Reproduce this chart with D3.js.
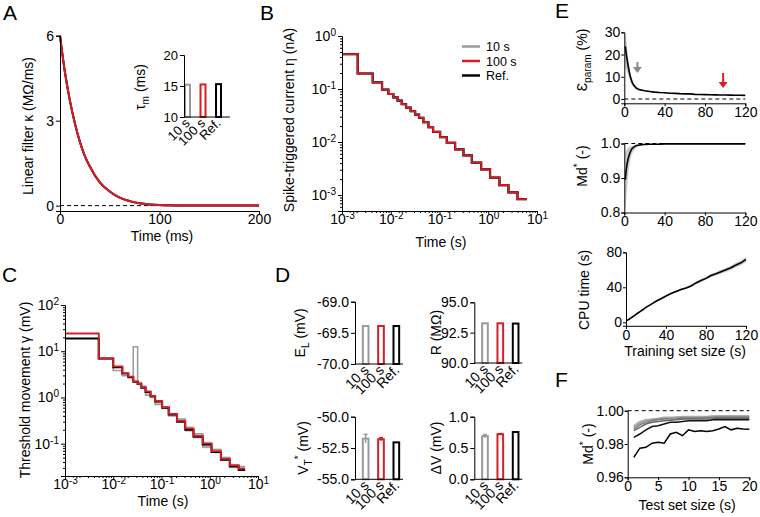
<!DOCTYPE html>
<html><head><meta charset="utf-8">
<script src="https://cdn.jsdelivr.net/npm/d3@7"></script>
<style>
body{margin:0;background:#fff;}
svg{display:block;}
</style></head><body>
<svg id="c" width="760" height="517"></svg>
<script>
// ================= DATA =================
const seriesNames = ["10 s", "100 s", "Ref."];

// A: linear filter kappa (MOhm/ms) vs time (ms)
const kappaTime = [0, 5, 10, 15, 20, 25, 30, 40, 50, 60, 70, 80, 90, 100, 120, 150, 200];
const kappaValues = [6.0, 4.7, 3.7, 2.9, 2.25, 1.75, 1.38, 0.82, 0.5, 0.28, 0.16, 0.08, 0.04, 0.02, 0.005, 0, 0];
// A inset: tau_m (ms)
const tauM = [15.2, 15.25, 15.3];

// B: spike-triggered current eta (nA), step boundaries (s) and levels
const etaBounds = [0.001, 0.0021, 0.00427, 0.00663, 0.00893, 0.0113, 0.0138, 0.0168, 0.0206, 0.0255, 0.0316, 0.0381, 0.0467, 0.0592, 0.0739, 0.103, 0.141, 0.209, 0.310, 0.460, 0.715, 1.09, 1.70, 2.60, 3.98, 6.2];
const etaLevels = [0.454, 0.196, 0.133, 0.097, 0.0805, 0.0695, 0.0602, 0.0518, 0.0446, 0.0383, 0.0329, 0.0286, 0.0236, 0.0190, 0.0156, 0.0124, 0.0097, 0.00727, 0.00561, 0.00409, 0.00306, 0.00214, 0.00153, 0.00112, 0.00084];

// C: threshold movement gamma (mV)
const gammaBounds = [0.001, 0.005, 0.01, 0.0154, 0.0205, 0.026, 0.032, 0.0381, 0.0467, 0.0592, 0.0739, 0.103, 0.141, 0.209, 0.310, 0.460, 0.715, 1.09, 1.70, 2.60, 3.98, 5.4];
const gamma100 = [24.4, 7.0, 4.7, 3.37, 2.81, 2.22, 1.98, 1.67, 1.35, 1.08, 0.84, 0.62, 0.44, 0.31, 0.215, 0.148, 0.102, 0.069, 0.047, 0.034, 0.029];
const gammaRef = [18.8, 7.0, 4.5, 3.3, 2.75, 2.2, 1.95, 1.62, 1.32, 1.06, 0.82, 0.60, 0.43, 0.30, 0.20, 0.142, 0.096, 0.066, 0.045, 0.032, 0.027];
const gamma10 = [24.0, 6.9, 3.85, 2.96, 2.75, 12.5, 2.1, 1.75, 1.12, 1.02, 0.70, 0.60, 0.40, 0.34, 0.20, 0.165, 0.085, 0.075, 0.050, 0.035, 0.032];
const gamma10Lo = [24.0, 6.9, 3.85, 2.96, 2.75, 2.3, 1.9, 1.6, 1.1, 0.95, 0.70, 0.55, 0.38, 0.29, 0.18, 0.13, 0.080, 0.062, 0.042, 0.029, 0.026];
const gamma10Hi = [24.0, 6.9, 3.85, 2.96, 2.75, 2.3, 2.2, 1.8, 1.3, 1.10, 0.85, 0.65, 0.46, 0.35, 0.24, 0.17, 0.110, 0.078, 0.052, 0.037, 0.033];

// D: model parameters
const EL = [-69.39, -69.39, -69.39];
const Rin = [93.27, 93.27, 93.25];
const VT = [-51.75, -51.8, -52.05];
const VTerr = [0.34, 0.12, 0];
const DV = [0.69, 0.72, 0.755];
const DVerr = [0.025, 0.01, 0];

// E: vs training set size (s)
const trainSize = [1, 2, 3, 4, 5, 6, 7, 8, 10, 12, 14, 16, 18, 20, 25, 30, 35, 40, 45, 50, 55, 60, 65, 70, 75, 80, 85, 90, 95, 100, 105, 110, 115, 120];
const epsParam = [23.7, 20, 17, 14.5, 12, 10, 8.5, 7.2, 5.8, 4.9, 4.4, 4.1, 3.9, 3.7, 3.4, 3.1, 2.9, 2.8, 2.6, 2.55, 2.4, 2.3, 2.3, 2.1, 2.0, 1.95, 1.9, 1.85, 1.8, 1.8, 1.75, 1.7, 1.7, 1.65];
const epsHi = [31, 27, 22, 18, 15, 12.5, 10.5, 8.8, 6.8, 5.6, 4.9, 4.5, 4.2, 4.0, 3.7, 3.35, 3.1, 3.0, 2.8, 2.7, 2.55, 2.45, 2.45, 2.25, 2.15, 2.1, 2.05, 2.0, 1.95, 1.95, 1.9, 1.85, 1.85, 1.8];
const epsLo = [14, 13, 12, 10.5, 9, 7.8, 6.8, 5.8, 4.8, 4.2, 3.9, 3.7, 3.6, 3.4, 3.1, 2.85, 2.7, 2.6, 2.4, 2.4, 2.25, 2.15, 2.15, 1.95, 1.85, 1.8, 1.75, 1.7, 1.65, 1.65, 1.6, 1.55, 1.55, 1.5];
const arrowSizes = [13, 98];
const mdTrain = [0.895, 0.925, 0.945, 0.958, 0.968, 0.976, 0.982, 0.986, 0.991, 0.994, 0.995, 0.996, 0.997, 0.997, 0.998, 0.998, 0.998, 0.999, 0.999, 0.999, 0.999, 0.999, 0.999, 0.999, 0.999, 0.999, 0.999, 0.999, 0.999, 0.999, 0.999, 0.999, 0.999, 0.999];
const mdTrainLo = [0.80, 0.84, 0.88, 0.91, 0.935, 0.952, 0.964, 0.972, 0.982, 0.988, 0.991, 0.993, 0.994, 0.995, 0.996, 0.997, 0.997, 0.998, 0.998, 0.998, 0.998, 0.998, 0.998, 0.998, 0.998, 0.998, 0.998, 0.998, 0.998, 0.998, 0.998, 0.998, 0.998, 0.998];
const mdTrainHi = [0.975, 0.98, 0.985, 0.988, 0.99, 0.992, 0.993, 0.994, 0.996, 0.997, 0.998, 0.998, 0.999, 0.999, 0.999, 0.999, 0.999, 1.0, 1.0, 1.0, 1.0, 1.0, 1.0, 1.0, 1.0, 1.0, 1.0, 1.0, 1.0, 1.0, 1.0, 1.0, 1.0, 1.0];
const cpuTime = [2, 2.8, 3.5, 4.3, 5, 5.8, 6.6, 7.4, 9, 10.6, 12.2, 13.8, 15.4, 17, 20.5, 24, 27, 30, 32.8, 35.3, 37.5, 39.2, 41.5, 45, 47.8, 50.2, 53.5, 55.5, 57.8, 60, 62.3, 65.5, 68, 72];
const cpuLo = [1.5, 2.3, 3.0, 3.8, 4.5, 5.3, 6.1, 6.9, 8.5, 10.1, 11.7, 13.2, 14.8, 16.4, 19.8, 23.2, 26.2, 29.1, 31.8, 34.2, 36.3, 38.0, 40.2, 43.5, 46.2, 48.5, 51.5, 53.4, 55.5, 57.6, 59.8, 62.8, 65.2, 69];
const cpuHi = [2.5, 3.3, 4.0, 4.8, 5.5, 6.3, 7.1, 7.9, 9.5, 11.1, 12.7, 14.4, 16.0, 17.6, 21.2, 24.8, 27.8, 30.9, 33.8, 36.4, 38.7, 40.4, 42.8, 46.5, 49.4, 51.9, 55.5, 57.6, 60.1, 62.4, 64.8, 68.2, 70.8, 75];

// F: Md* vs test set size (s)
const testSize = [1, 2, 3, 4, 5, 6, 7, 8, 9, 10, 11, 12, 13, 14, 15, 16, 17, 18, 19, 20];
const mdTestLines = [
  [0.991, 0.9935, 0.9945, 0.995, 0.9955, 0.996, 0.996, 0.996, 0.9965, 0.9965, 0.9965, 0.9965, 0.9965, 0.997, 0.997, 0.997, 0.997, 0.997, 0.997, 0.997],
  [0.990, 0.9925, 0.994, 0.9945, 0.995, 0.9955, 0.9955, 0.996, 0.996, 0.996, 0.996, 0.996, 0.9962, 0.9962, 0.9965, 0.9965, 0.9965, 0.9965, 0.9965, 0.9965],
  [0.989, 0.9915, 0.993, 0.994, 0.9945, 0.995, 0.995, 0.9952, 0.9955, 0.9955, 0.9955, 0.9955, 0.9958, 0.996, 0.996, 0.996, 0.996, 0.996, 0.996, 0.996],
  [0.988, 0.990, 0.992, 0.993, 0.9935, 0.994, 0.9942, 0.9945, 0.995, 0.995, 0.995, 0.995, 0.995, 0.9952, 0.9955, 0.9955, 0.9955, 0.9955, 0.9955, 0.9955],
  [0.984, 0.986, 0.9885, 0.9905, 0.991, 0.992, 0.993, 0.993, 0.9935, 0.994, 0.994, 0.994, 0.994, 0.9945, 0.9945, 0.9945, 0.9945, 0.9945, 0.9945, 0.9945],
  [0.972, 0.9775, 0.978, 0.9805, 0.981, 0.9805, 0.986, 0.987, 0.985, 0.9885, 0.9875, 0.988, 0.9875, 0.988, 0.989, 0.9905, 0.9885, 0.9895, 0.989, 0.9888]
];
const mdTestColors = ["#b0b0b0", "#999999", "#808080", "#666666", "#111111", "#000000"];

// ================= DRAWING =================
const FONT = "'Liberation Sans', Arial, Helvetica, sans-serif";
const RED = "#d81e24", GRAY = "#9a9a9a", BLACK = "#000000";
const seriesColors = [GRAY, RED, BLACK];
const svg = d3.select("#c").attr("font-family", FONT);

function makeAxis(kind, scale, pos, ticks, fmt, fs, opts = {}) {
  const ax = (kind === "left" ? d3.axisLeft(scale) : d3.axisBottom(scale))
    .tickValues(ticks).tickSizeOuter(0)
    .tickSize(opts.size ?? 4).tickPadding(opts.pad ?? 2);
  if (fmt !== undefined) ax.tickFormat(fmt);
  const g = svg.append("g")
    .attr("transform", kind === "left" ? `translate(${pos},0)` : `translate(0,${pos})`)
    .call(ax);
  g.attr("font-family", FONT).attr("font-size", fs);
  g.selectAll("path.domain").attr("stroke", "#000").attr("stroke-width", 1);
  g.selectAll(".tick line").attr("stroke", "#000").attr("stroke-width", 1);
  g.selectAll(".tick text").attr("fill", "#000");
  if (opts.noDomain) g.select("path.domain").remove();
  return g;
}
function supLabels(g) {
  g.selectAll(".tick text").each(function (d) {
    const t = d3.select(this);
    const e = Math.round(Math.log10(d));
    t.text("10");
    t.append("tspan").attr("dy", "-0.5em").attr("font-size", "0.72em").text(e);
  });
}
function minorTicks(lo, hi) {
  const out = [];
  for (let e = Math.floor(Math.log10(lo)); e < Math.ceil(Math.log10(hi)); e++)
    for (let m = 2; m <= 9; m++) { const v = m * Math.pow(10, e); if (v >= lo && v <= hi) out.push(v); }
  return out;
}
function rich(sel, parts, fs) {
  let shift = 0;
  parts.forEach(p => {
    const [txt, kind] = Array.isArray(p) ? p : [p, null];
    const target = kind === "sub" ? fs * 0.3 : kind === "sup" ? -fs * 0.42 : 0;
    const ts = sel.append("tspan").attr("dy", target - shift).text(txt);
    if (kind) ts.attr("font-size", fs * 0.72);
    shift = target;
  });
}
function yTitle(x, y, parts, fs = 14) {
  const t = svg.append("text").attr("transform", `translate(${x},${y}) rotate(-90)`)
    .attr("text-anchor", "middle").attr("font-size", fs).attr("fill", "#000");
  rich(t, parts, fs);
}
function xTitle(x, y, txt, fs = 14) {
  svg.append("text").attr("x", x).attr("y", y).attr("text-anchor", "middle")
    .attr("font-size", fs).attr("fill", "#000").text(txt);
}
function letter(x, y, t) {
  svg.append("text").attr("x", x).attr("y", y).attr("font-size", 21).attr("fill", "#000").text(t);
}
function stairs(bounds, vals) {
  const pts = vals.map((v, i) => [bounds[i], v]);
  pts.push([bounds[vals.length], vals[vals.length - 1]]);
  return pts;
}
function hline(x0, x1, y, dash) {
  svg.append("line").attr("x1", x0).attr("x2", x1).attr("y1", y).attr("y2", y)
    .attr("stroke", "#000").attr("stroke-width", 1).attr("stroke-dasharray", dash || null);
}
function catLabels(band, axisY, fs) {
  seriesNames.forEach(n => {
    const cx = band(n) + band.bandwidth() / 2;
    svg.append("text").attr("transform", `translate(${cx + 4},${axisY + 7}) rotate(-45)`)
      .attr("text-anchor", "end").attr("font-size", fs).attr("fill", "#000").text(n);
  });
}
function barPanel(vals, errs, yDom, yTicks, fmt, axisX, yRange, titleParts, titleX) {
  const y = d3.scaleLinear().domain(yDom).range(yRange);
  const band = d3.scaleBand().domain(seriesNames).range([axisX + 3, axisX + 49]).paddingInner(0.5).paddingOuter(0.25);
  vals.forEach((v, i) => {
    const n = seriesNames[i];
    svg.append("rect").attr("x", band(n) + 1).attr("width", band.bandwidth() - 2)
      .attr("y", y(v)).attr("height", y(yDom[0]) - y(v))
      .attr("fill", "#fff").attr("stroke", seriesColors[i]).attr("stroke-width", 2);
    if (errs && errs[i] > 0) {
      const cx = band(n) + band.bandwidth() / 2;
      svg.append("line").attr("x1", cx).attr("x2", cx).attr("y1", y(v - errs[i])).attr("y2", y(v + errs[i]))
        .attr("stroke", seriesColors[i]).attr("stroke-width", 1.5);
      svg.append("line").attr("x1", cx - 2).attr("x2", cx + 2).attr("y1", y(v + errs[i])).attr("y2", y(v + errs[i]))
        .attr("stroke", seriesColors[i]).attr("stroke-width", 1.5);
    }
  });
  makeAxis("left", y, axisX, yTicks, fmt, 14);
  hline(axisX, axisX + 48, y(yDom[0]));
  catLabels(band, y(yDom[0]), 14);
  yTitle(titleX, (yRange[0] + yRange[1]) / 2, titleParts);
}

// ---------- Panel A ----------
letter(3, 20, "A");
{
  const x = d3.scaleLinear().domain([0, 200]).range([60, 259]);
  const y = d3.scaleLinear().domain([-0.19, 6]).range([211, 35.7]);
  hline(x(0), x(200), y(0), "4,3");
  const line = d3.line().x((d, i) => x(kappaTime[i])).y(d => y(d)).curve(d3.curveMonotoneX);
  [GRAY, BLACK, RED].forEach(c => {
    svg.append("path").attr("d", line(kappaValues)).attr("fill", "none").attr("stroke", c).attr("stroke-width", 2);
  });
  makeAxis("left", y, 60, [0, 3, 6], d => d, 14);
  makeAxis("bottom", x, 211, [0, 100, 200], d => d, 14, { size: 3, pad: 0 });
  yTitle(33, 126, ["Linear filter κ (MΩ/ms)"]);
  xTitle(162, 241, "Time (ms)");

  // inset
  const yi = d3.scaleLinear().domain([10, 20]).range([117, 55]);
  const bi = d3.scaleBand().domain(seriesNames).range([184, 222]).paddingInner(0.55).paddingOuter(0).align(0);
  tauM.forEach((v, i) => {
    const n = seriesNames[i];
    svg.append("rect").attr("x", bi(n) + 1).attr("width", bi.bandwidth() - 2)
      .attr("y", yi(v)).attr("height", yi(10) - yi(v))
      .attr("fill", "#fff").attr("stroke", seriesColors[i]).attr("stroke-width", 2);
  });
  makeAxis("left", yi, 184, [10, 15, 20], d => d, 13);
  hline(184, 230, 117);
  seriesNames.forEach(n => {
    const cx = bi(n) + bi.bandwidth() / 2;
    svg.append("text").attr("transform", `translate(${cx + 3},${124}) rotate(-45)`)
      .attr("text-anchor", "end").attr("font-size", 13).attr("fill", "#000").text(n);
  });
  yTitle(145, 87, ["τ", ["m", "sub"], " (ms)"], 14);
}

// ---------- Panel B ----------
letter(260, 20, "B");
{
  const x = d3.scaleLog().domain([0.001, 10]).range([342, 537]);
  const y = d3.scaleLog().domain([0.0005, 1]).range([211, 36]);
  const line = d3.line().x(d => x(d[0])).y(d => y(d[1])).curve(d3.curveStepAfter);
  const pts = stairs(etaBounds, etaLevels);
  [GRAY, BLACK, RED].forEach((c, i) => {
    svg.append("path").attr("d", line(pts)).attr("fill", "none").attr("stroke", c)
      .attr("stroke-width", i === 2 ? 1.8 : 2.2);
  });
  makeAxis("left", y, 342, minorTicks(0.0005, 1), "", 14, { size: 2, noDomain: true });
  makeAxis("bottom", x, 211, minorTicks(0.001, 10), "", 14, { size: 2, noDomain: true });
  supLabels(makeAxis("left", y, 342, [0.001, 0.01, 0.1, 1], undefined, 14));
  supLabels(makeAxis("bottom", x, 211, [0.001, 0.01, 0.1, 1, 10], undefined, 14, { size: 3, pad: 0 }));
  yTitle(294, 120, ["Spike-triggered current η (nA)"]);
  xTitle(441, 247, "Time (s)");
  // legend
  seriesNames.forEach((n, i) => {
    const ly = 46.5 + i * 14.5;
    svg.append("line").attr("x1", 462).attr("x2", 480).attr("y1", ly).attr("y2", ly)
      .attr("stroke", seriesColors[i]).attr("stroke-width", 2.5);
    svg.append("text").attr("x", 486).attr("y", ly + 4.5).attr("font-size", 12.5).attr("fill", "#000").text(n);
  });
}

// ---------- Panel C ----------
letter(2, 282, "C");
{
  const x = d3.scaleLog().domain([0.001, 10]).range([65, 258]);
  const y = d3.scaleLog().domain([0.02, 100]).range([476, 305]);
  const area = d3.area().x(d => x(d[0])).y0(d => y(d[1])).y1(d => y(d[2])).curve(d3.curveStepAfter);
  const bandPts = gamma10Lo.map((v, i) => [gammaBounds[i], v, gamma10Hi[i]]);
  bandPts.push([gammaBounds[gamma10Lo.length], gamma10Lo[gamma10Lo.length - 1], gamma10Hi[gamma10Hi.length - 1]]);
  svg.append("path").attr("d", area(bandPts)).attr("fill", "#cfcfcf").attr("stroke", "none");
  const line = d3.line().x(d => x(d[0])).y(d => y(d[1])).curve(d3.curveStepAfter);
  svg.append("path").attr("d", line(stairs(gammaBounds, gamma10))).attr("fill", "none").attr("stroke", GRAY).attr("stroke-width", 1.5);
  svg.append("path").attr("d", line(stairs(gammaBounds, gammaRef))).attr("fill", "none").attr("stroke", BLACK).attr("stroke-width", 2);
  svg.append("path").attr("d", line(stairs(gammaBounds, gamma100))).attr("fill", "none").attr("stroke", RED).attr("stroke-width", 1.8);
  makeAxis("left", y, 65, minorTicks(0.02, 100), "", 14, { size: 2, noDomain: true });
  makeAxis("bottom", x, 476, minorTicks(0.001, 10), "", 14, { size: 2, noDomain: true });
  supLabels(makeAxis("left", y, 65, [0.1, 1, 10, 100], undefined, 14));
  supLabels(makeAxis("bottom", x, 476, [0.001, 0.01, 0.1, 1, 10], undefined, 14, { size: 3, pad: 0 }));
  yTitle(30, 390, ["Threshold movement γ (mV)"]);
  xTitle(163, 506, "Time (s)");
}

// ---------- Panel D ----------
letter(275, 282, "D");
barPanel(EL, null, [-70, -69], [-70, -69.5, -69], d => d.toFixed(1), 355, [364, 301.7], ["E", ["L", "sub"], " (mV)"], 305);
barPanel(Rin, null, [90, 95], [90, 92.5, 95], d => d.toFixed(1), 474.3, [363, 302.3], ["R (MΩ)"], 441);
barPanel(VT, VTerr, [-55, -50], [-55, -52.5, -50], d => d.toFixed(1), 355, [479.3, 416.7], ["V", ["T", "sub"], ["*", "sup"], " (mV)"], 308);
barPanel(DV, DVerr, [0, 1], [0, 0.5, 1], d => d.toFixed(1), 474.3, [479.3, 416.7], ["ΔV (mV)"], 441);

// ---------- Panel E ----------
letter(555, 18, "E");
{
  // top: epsilon_param
  const x = d3.scaleLinear().domain([0, 120]).range([624.3, 745.3]);
  const y = d3.scaleLinear().domain([-1.93, 30]).range([103.3, 32.3]);
  const area = d3.area().x((d, i) => x(trainSize[i])).y0((d, i) => y(epsLo[i])).y1((d, i) => y(epsHi[i]));
  svg.append("path").attr("d", area(epsParam)).attr("fill", "#cccccc");
  hline(x(0), x(120), y(0), "4,3");
  const line = d3.line().x((d, i) => x(trainSize[i])).y(d => y(d));
  svg.append("path").attr("d", line(epsParam)).attr("fill", "none").attr("stroke", "#000").attr("stroke-width", 1.6);
  // arrows
  [["#8a8a8a", 0, 62, 73], [RED, 1, 73, 88]].forEach(([c, k, y0, y1]) => {
    const ax = x(arrowSizes[k]);
    svg.append("line").attr("x1", ax).attr("x2", ax).attr("y1", y0).attr("y2", y1 - 5).attr("stroke", c).attr("stroke-width", 2);
    svg.append("path").attr("d", `M${ax - 4.5},${y1 - 6}L${ax + 4.5},${y1 - 6}L${ax},${y1}Z`).attr("fill", c);
  });
  makeAxis("left", y, 624.3, [0, 10, 20, 30], d => d, 14, { size: 3, pad: 1 });
  makeAxis("bottom", x, 103.3, [0, 40, 80, 120], d => d, 14, { size: 3, pad: 1 });
  yTitle(587, 60, ["Ɛ", ["param", "sub"], " (%)"]);

  // middle: Md*
  const y2 = d3.scaleLinear().domain([0.8, 1.0]).range([212.5, 143.5]);
  const area2 = d3.area().x((d, i) => x(trainSize[i])).y0((d, i) => y2(mdTrainLo[i])).y1((d, i) => y2(mdTrainHi[i]));
  svg.append("path").attr("d", area2(mdTrain)).attr("fill", "#cccccc");
  hline(x(0), x(120), y2(1.0), "4,3");
  const line2 = d3.line().x((d, i) => x(trainSize[i])).y(d => y2(d));
  svg.append("path").attr("d", line2(mdTrain)).attr("fill", "none").attr("stroke", "#000").attr("stroke-width", 1.6);
  makeAxis("left", y2, 624.3, [0.8, 0.9, 1.0], d => d.toFixed(1), 14, { size: 3, pad: 1 });
  makeAxis("bottom", x, 212.5, [0, 40, 80, 120], d => d, 14, { size: 3, pad: 1 });
  yTitle(587, 166, ["Md", ["*", "sup"], " (-)"]);

  // bottom: CPU time
  const x3 = d3.scaleLinear().domain([0, 120]).range([626, 746]);
  const y3 = d3.scaleLinear().domain([-4, 80]).range([325.8, 252.3]);
  const area3 = d3.area().x((d, i) => x3(trainSize[i])).y0((d, i) => y3(cpuLo[i])).y1((d, i) => y3(cpuHi[i]));
  svg.append("path").attr("d", area3(cpuTime)).attr("fill", "#cccccc");
  const line3 = d3.line().x((d, i) => x3(trainSize[i])).y(d => y3(d));
  svg.append("path").attr("d", line3(cpuTime)).attr("fill", "none").attr("stroke", "#000").attr("stroke-width", 1.6);
  makeAxis("left", y3, 626, [0, 40, 80], d => d, 14, { size: 3, pad: 1 });
  makeAxis("bottom", x3, 325.8, [0, 40, 80, 120], d => d, 14, { size: 3, pad: 1 });
  yTitle(589, 290, ["CPU time (s)"]);
  xTitle(685, 356, "Training set size (s)");
}

// ---------- Panel F ----------
letter(555, 387, "F");
{
  const x = d3.scaleLinear().domain([0, 20]).range([627.7, 749.3]);
  const y = d3.scaleLinear().domain([0.96, 1.0]).range([477.3, 410.7]);
  hline(x(0), x(20), y(1.0), "4,3");
  const line = d3.line().x((d, i) => x(testSize[i])).y(d => y(d));
  mdTestLines.forEach((arr, k) => {
    svg.append("path").attr("d", line(arr)).attr("fill", "none").attr("stroke", mdTestColors[k]).attr("stroke-width", 1.5);
  });
  makeAxis("left", y, 627.7, [0.96, 0.98, 1.0], d => d.toFixed(2), 14, { size: 3, pad: 1 });
  makeAxis("bottom", x, 477.3, [0, 5, 10, 15, 20], d => d, 14, { size: 3, pad: 1 });
  yTitle(593, 444, ["Md", ["*", "sup"], " (-)"]);
  xTitle(687, 510, "Test set size (s)");
}
</script>
</body></html>
